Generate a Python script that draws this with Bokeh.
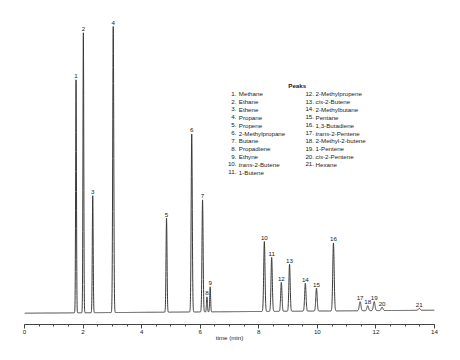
import numpy as np
from bokeh.plotting import figure
from bokeh.models import Range1d, ColumnDataSource, FixedTicker
from bokeh.core.properties import value
from bokeh.embed import file_html
from bokeh.resources import INLINE

# ---- data ----
peak_numbers = ["1", "2", "3", "4", "5", "6", "7", "8", "9", "10", "11",
                "12", "13", "14", "15", "16", "17", "18", "19", "20", "21"]
retention_min = [1.76, 2.01, 2.33, 3.03, 4.85, 5.71, 6.08, 6.23, 6.34, 8.19, 8.44,
                 8.77, 9.05, 9.59, 9.97, 10.55, 11.46, 11.72, 11.94, 12.21, 13.48]
peak_height = [233, 280, 117, 286, 94, 178, 112, 15, 25, 70, 54,
               29, 47, 28, 23, 68, 9, 5, 9, 3.5, 2]
peak_sigma = [0.014, 0.014, 0.015, 0.018, 0.017, 0.019, 0.019, 0.015, 0.015, 0.022, 0.022,
              0.022, 0.022, 0.023, 0.023, 0.024, 0.028, 0.028, 0.028, 0.03, 0.03]
baseline_drift_end = 3.0  # baseline rise over the run

compound_names = ["Methane", "Ethane", "Ethene", "Propane", "Propene", "2-Methylpropane",
                  "Butane", "Propadiene", "Ethyne", "trans-2-Butene", "1-Butene",
                  "2-Methylpropene", "cis-2-Butene", "2-Methylbutane", "Pentane",
                  "1,3-Butadiene", "trans-2-Pentene", "2-Methyl-2-butene", "1-Pentene",
                  "cis-2-Pentene", "Hexane"]
x_ticks = [0, 2, 4, 6, 8, 10, 12, 14]
x_label = "time (min)"
legend_title = "Peaks"

FONT = "Liberation Sans"
FS = "6.2px"
TXT = "#222222"

p = figure(width=452, height=352, output_backend="svg", toolbar_location=None,
           x_range=Range1d(0, 14), y_range=Range1d(-11.3, 298.7),
           min_border_left=24, min_border_right=18, min_border_top=14, min_border_bottom=28)
p.outline_line_color = None
p.grid.visible = False
p.yaxis.visible = False
p.background_fill_color = "white"

# chromatogram trace built from the read peak table
t = np.arange(0, 14.0001, 0.002)
rt = np.array(retention_min)
h = np.array(peak_height)
s = np.array(peak_sigma)
sig = baseline_drift_end * t / 14.0
for r_, h_, s_ in zip(rt, h, s):
    sig = sig + h_ * np.exp(-0.5 * ((t - r_) / s_) ** 2)
p.line(t, sig, line_color="#3a3a3a", line_width=1)

# peak number labels
apex = h + baseline_drift_end * rt / 14.0
src = ColumnDataSource(dict(x=rt, y=apex, txt=peak_numbers))
p.text(x="x", y="y", text="txt", source=src, text_align="center", text_baseline="bottom",
       y_offset=-1.5, text_font=value(FONT), text_font_size=FS, text_color=TXT)

# legend block ("Peaks")
def px_to_x(px):
    return (px - 24) / (410 / 14)

def py_to_y(py):
    return 312.7 - py

p.text(x=[px_to_x(296.7)], y=[py_to_y(85)], text=[legend_title], text_align="center",
       text_baseline="middle", text_font=value(FONT), text_font_size=FS,
       text_font_style="bold", text_color=TXT)

italic_w = {"trans": 13.6, "cis": 7.5}
col_num_px = [236.0, 313.5]
col_name_px = [238.3, 315.0]
for i, (num, name) in enumerate(zip(peak_numbers, compound_names)):
    col = 0 if i < 11 else 1
    row = i if i < 11 else i - 11
    yy = py_to_y(93.3 + row * 7.84)
    p.text(x=[px_to_x(col_num_px[col])], y=[yy], text=[num + "."], text_align="right",
           text_baseline="middle", text_font=value(FONT), text_font_size=FS, text_color=TXT)
    xn = px_to_x(col_name_px[col])
    prefix = None
    for pre in ("trans", "cis"):
        if name.startswith(pre + "-"):
            prefix = pre
    if prefix:
        p.text(x=[xn], y=[yy], text=[prefix], text_align="left", text_baseline="middle",
               text_font=value(FONT), text_font_size=FS, text_font_style="italic",
               text_color=TXT)
        p.text(x=[xn], y=[yy], text=[name[len(prefix):]], x_offset=italic_w[prefix],
               text_align="left", text_baseline="middle", text_font=value(FONT),
               text_font_size=FS, text_color=TXT)
    else:
        p.text(x=[xn], y=[yy], text=[name], text_align="left", text_baseline="middle",
               text_font=value(FONT), text_font_size=FS, text_color=TXT)

# x axis
ax = p.xaxis[0]
ax.ticker = FixedTicker(ticks=x_ticks, minor_ticks=list(np.arange(0, 14.01, 0.5)))
ax.axis_label = x_label
ax.axis_label_text_font = FONT
ax.axis_label_text_font_size = FS
ax.axis_label_text_font_style = "normal"
ax.axis_label_text_color = TXT
ax.axis_label_standoff = -3
ax.major_label_text_font = FONT
ax.major_label_text_font_size = FS
ax.major_label_text_color = TXT
ax.major_label_standoff = 1
ax.axis_line_color = "#444444"
ax.major_tick_line_color = "#444444"
ax.minor_tick_line_color = "#444444"
ax.major_tick_in = 0
ax.major_tick_out = 4
ax.minor_tick_in = 0
ax.minor_tick_out = 2

open("out.html", "w").write(file_html(p, INLINE))
